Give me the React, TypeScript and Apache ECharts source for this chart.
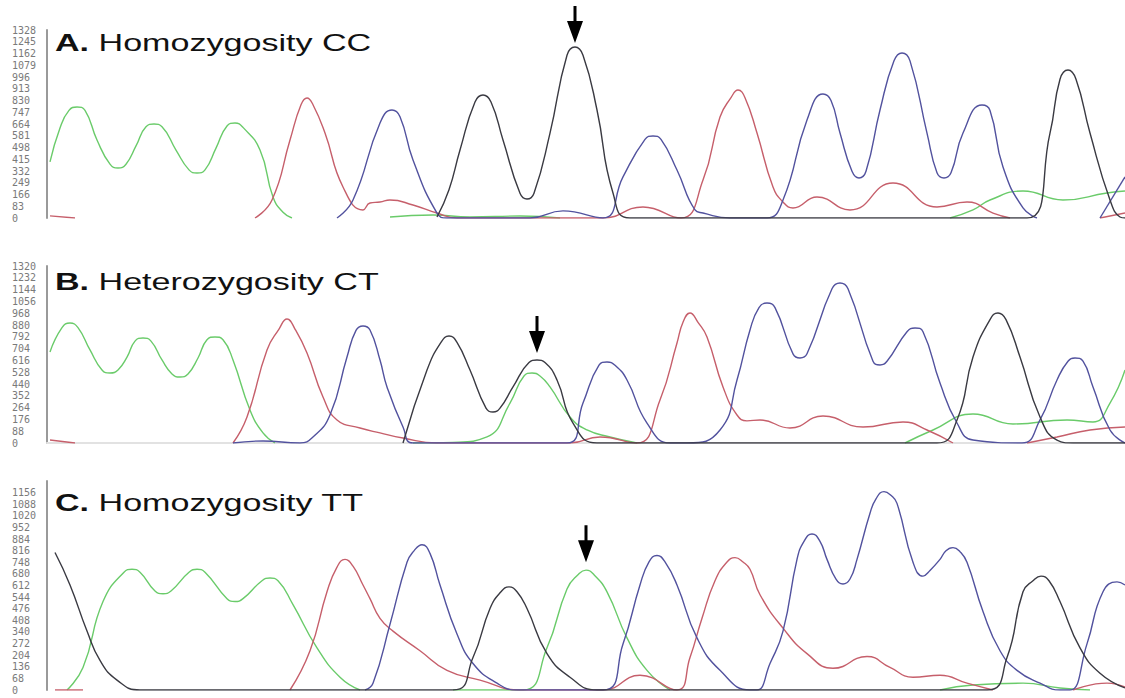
import React, { useEffect, useRef } from 'react';
import * as echarts from 'echarts';

type Pt = [number, number];

// ---------- Panel A: Homozygosity CC ----------
const aGreen: Pt[][] = [
  [[3,396],[13,636],[22,760],[30,784],[38,760],[50,551],[63,380],[71,353],[79,380],[89,509],[99,645],[107,664],[115,645],[129,480],[142,340],[150,318],[158,340],[169,494],[180,650],[188,671],[196,640],[213,480],[226,148],[236,40],[245,0]],
  [[343,7],[386,21],[423,7],[473,14],[513,0]],
  [[903,0],[926,57],[943,127],[976,191],[1016,127],[1060,177],[1078,191]],
];
const aRed: Pt[][] = [
  [[3,15],[28,0]],
  [[208,0],[225,127],[243,551],[254,800],[260,848],[266,800],[278,600],[296,219],[316,57],[323,106],[333,113],[343,127],[366,92],[390,35],[410,0],[556,0],[596,78],[634,0],[656,268],[673,713],[684,850],[691,904],[698,850],[710,600],[726,219],[736,113],[746,71],[770,148],[803,57],[846,247],[890,78],[920,113],[946,35],[963,0]],
  [[1053,0],[1078,35]],
];
const aBlue: Pt[][] = [
  [[290,0],[306,127],[333,671],[345,763],[353,715],[366,410],[390,35],[400,0],[483,0],[516,50],[556,0],[576,290],[598,555],[606,579],[614,555],[630,339],[648,57],[656,35],[683,0],[720,0],[736,127],[760,692],[776,876],[784,830],[793,600],[805,330],[812,283],[819,330],[833,763],[847,1110],[855,1166],[863,1110],[880,600],[890,320],[897,283],[904,320],[916,600],[935,798],[943,760],[956,360],[976,71],[990,0]],
  [[1053,0],[1078,290]],
];
const aBlack: Pt[][] = [
  [[390,7],[402,200],[413,480],[428,820],[436,869],[444,820],[456,551],[473,175],[480,134],[487,175],[503,600],[520,1150],[528,1208],[536,1150],[550,763],[566,177],[583,0],[980,0],[1003,600],[1013,980],[1021,1045],[1029,980],[1043,600],[1063,127],[1073,7],[1078,0]],
];

// ---------- Panel B: Heterozygosity CT ----------
const bGreen: Pt[][] = [
  [[3,679],[15,860],[23,895],[31,860],[43,694],[55,545],[63,522],[71,545],[80,641],[88,760],[96,783],[104,760],[115,619],[125,515],[133,492],[141,515],[151,634],[160,770],[168,791],[176,770],[186,619],[203,246],[216,75],[228,0]],
  [[366,0],[406,5],[440,45],[463,298],[477,500],[485,522],[493,500],[503,418],[523,194],[540,97],[563,45],[590,0]],
  [[858,0],[886,97],[926,216],[966,142],[1020,172],[1046,157],[1063,298],[1078,544]],
];
const bRed: Pt[][] = [
  [[3,22],[28,0]],
  [[186,0],[200,194],[220,694],[232,850],[240,925],[248,850],[260,671],[276,343],[290,172],[313,112],[333,75],[356,37],[390,0],[523,0],[553,45],[590,0],[613,321],[630,746],[636,900],[643,970],[651,900],[660,791],[676,418],[690,209],[700,165],[713,172],[743,112],[776,201],[816,119],[856,157],[880,97],[906,0]],
  [[980,0],[1010,45],[1043,97],[1078,119]],
];
const bBlue: Pt[][] = [
  [[186,0],[216,15],[253,0],[266,45],[283,209],[300,641],[309,840],[316,873],[323,843],[333,619],[340,418],[356,119],[366,0],[520,0],[536,298],[552,580],[560,604],[568,580],[580,470],[600,149],[623,0],[640,0],[673,97],[690,470],[703,843],[712,1010],[720,1044],[728,1010],[746,665],[753,634],[760,665],[785,1150],[793,1193],[801,1150],[826,610],[833,582],[840,610],[860,830],[868,858],[876,830],[893,447],[910,149],[926,22],[975,0],[993,172],[1010,470],[1021,610],[1028,634],[1036,610],[1046,418],[1063,97],[1078,0]],
];
const bBlack: Pt[][] = [
  [[356,0],[380,544],[394,750],[402,798],[410,750],[423,544],[439,260],[446,231],[453,260],[466,418],[482,600],[490,619],[498,600],[510,470],[526,149],[550,0],[890,0],[910,172],[926,641],[943,920],[951,970],[959,920],[973,641],[993,194],[1010,22],[1026,0],[1078,0]],
];

// ---------- Panel C: Homozygosity TT ----------
const cGreen: Pt[][] = [
  [[20,0],[36,132],[56,518],[77,690],[85,707],[93,690],[108,580],[116,564],[124,580],[142,690],[150,707],[158,690],[180,535],[188,518],[196,535],[215,640],[223,656],[231,640],[246,500],[270,247],[293,75],[313,0]],
  [[406,0],[476,0],[500,247],[520,592],[531,675],[539,702],[547,675],[560,575],[580,305],[600,115],[623,0]],
  [[893,0],[926,29],[976,40],[1013,12],[1043,0]],
];
const cRed: Pt[][] = [
  [[8,0],[36,0]],
  [[243,0],[263,230],[280,575],[290,720],[298,765],[306,725],[316,615],[323,535],[333,420],[346,345],[373,230],[400,115],[433,58],[473,0],[556,0],[593,86],[630,0],[643,190],[655,420],[668,640],[680,750],[688,775],[696,750],[703,707],[713,558],[736,362],[760,213],[786,127],[820,196],[843,132],[866,75],[893,86],[920,40],[946,0]],
  [[1026,0],[1060,40],[1078,17]],
];
const cBlue: Pt[][] = [
  [[318,0],[326,40],[343,385],[360,748],[367,815],[375,851],[383,800],[393,615],[410,328],[426,155],[450,40],[470,0],[556,0],[576,270],[593,615],[602,750],[610,788],[618,750],[630,615],[650,305],[673,115],[703,0],[710,0],[723,155],[736,345],[750,765],[757,870],[765,914],[773,870],[780,765],[789,650],[796,621],[803,650],[810,765],[823,1035],[829,1120],[837,1162],[844,1140],[850,1093],[866,748],[876,667],[883,700],[893,765],[899,815],[906,834],[913,810],[920,748],[936,460],[953,230],[970,115],[993,40],[1013,0],[1023,0],[1040,270],[1056,575],[1070,633],[1078,615]],
];
const cBlack: Pt[][] = [
  [[8,805],[23,615],[40,345],[53,173],[70,58],[93,0],[406,0],[426,190],[443,477],[454,575],[462,604],[470,575],[480,477],[500,213],[523,75],[550,0],[940,0],[960,190],[976,575],[986,640],[994,667],[1002,640],[1013,518],[1033,247],[1053,98],[1078,12]],
];

// axis scales and titles
const yMaxes = [1328, 1320, 1224];
const yIntervals = [83, 88, 68];
const titleLetters = ['A.', 'B.', 'C.'];
const titleTexts = ['Homozygosity CC', 'Heterozygosity CT', 'Homozygosity TT'];
// arrow marks: the peak each arrow points at [scan, signal]
const arrowPeaks: Pt[] = [[528, 1208], [490, 619], [539, 702]];
const arrowTrace = ['black', 'black', 'green'];

const X_MAX = 1078;

const COLORS: Record<string, string> = {
  green: '#6acb6a',
  red: '#c65f6b',
  blue: '#52529e',
  black: '#3a3a42',
};

const layout = [
  { top: 30, height: 188, titleY: 42, arrowOffset: -22.5 },
  { top: 266, height: 177, titleY: 281, arrowOffset: -25.5 },
  { top: 481, height: 209, titleY: 502, arrowOffset: -26.5 },
];

const ARROW = 'path://M6.5,0L9.5,0L9.5,15L16,15L8,37L0,15L6.5,15Z';

export default function App() {
  const ref = useRef<HTMLDivElement>(null);
  useEffect(() => {
    if (!ref.current) return;
    const chart = echarts.init(ref.current, undefined, { renderer: 'svg' });
    const traces = [
      { green: aGreen, red: aRed, blue: aBlue, black: aBlack },
      { green: bGreen, red: bRed, blue: bBlue, black: bBlack },
      { green: cGreen, red: cRed, blue: cBlue, black: cBlack },
    ];
    const grid: any[] = [];
    const xAxis: any[] = [];
    const yAxis: any[] = [];
    const series: any[] = [];
    const graphic: any[] = [];
    layout.forEach((l, i) => {
      grid.push({ left: 47, right: 0, top: l.top, height: l.height, outerBoundsMode: 'none' });
      xAxis.push({
        type: 'value', gridIndex: i, min: 0, max: X_MAX,
        axisLine: { show: i === 1, lineStyle: { color: '#e2e2e2', width: 2 } },
        axisTick: { show: false }, axisLabel: { show: false }, splitLine: { show: false },
      });
      yAxis.push({
        type: 'value', gridIndex: i, min: 0, max: yMaxes[i], interval: yIntervals[i],
        axisLine: { show: true, lineStyle: { color: '#9a9a9a', width: 2 } },
        axisTick: { show: false }, splitLine: { show: false },
        axisLabel: {
          show: true, align: 'left', margin: 35, color: '#7a7a7a', fontSize: 10,
          fontFamily: 'DejaVu Sans Mono', showMaxLabel: i !== 2,
          formatter: (v: number) => String(v),
        },
      });
      const tr: any = traces[i];
      ['green', 'red', 'blue', 'black'].forEach((name) => {
        (tr[name] as Pt[][]).forEach((segData, si) => {
          const s: any = {
            type: 'line', xAxisIndex: i, yAxisIndex: i, data: segData,
            smooth: 0.5, showSymbol: false, symbol: 'none', silent: true,
            lineStyle: { color: COLORS[name], width: 1.4 },
            z: 2,
          };
          if (arrowTrace[i] === name && si === 0) {
            s.markPoint = {
              symbol: ARROW, symbolSize: [16, 37], symbolOffset: [0, l.arrowOffset],
              itemStyle: { color: '#000' }, label: { show: false }, silent: true,
              data: [{ coord: arrowPeaks[i] }],
            };
          }
          series.push(s);
        });
      });
      graphic.push({
        type: 'text', x: 55, y: l.titleY, scaleX: 1.42, z: 10,
        style: {
          text: `{b|${titleLetters[i]}} ${titleTexts[i]}`,
          fontSize: 24, fontFamily: 'Liberation Sans, Arial, sans-serif',
          fill: '#111', verticalAlign: 'middle',
          rich: { b: { fontWeight: 'bold', fontSize: 24, fontFamily: 'Liberation Sans, Arial, sans-serif', fill: '#111' } },
        },
      });
    });
    chart.setOption({
      animation: false,
      backgroundColor: '#ffffff',
      grid, xAxis, yAxis, series, graphic,
    });
    return () => chart.dispose();
  }, []);
  return <div ref={ref} style={{ position: 'fixed', left: 0, top: 0, width: 1125, height: 698 }} />;
}
